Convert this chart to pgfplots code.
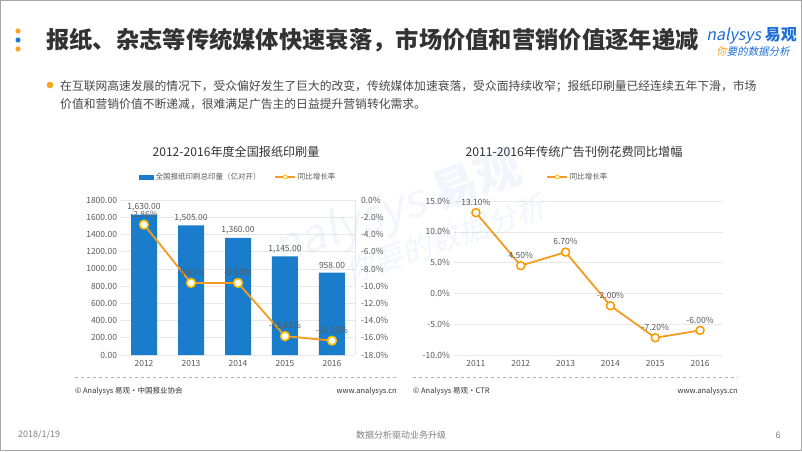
\documentclass[border=0pt]{standalone}
\usepackage{fontspec}
\setmainfont{Noto Sans CJK SC}
\newfontfamily\slantfont{Noto Sans CJK SC}[FakeSlant=0.2]
\usepackage{pgfplots}
\pgfplotsset{compat=1.18}
\definecolor{barblue}{HTML}{1A7DCB}
\definecolor{lineorange}{HTML}{F39C1F}
\definecolor{mkyellow}{HTML}{FFC000}
\definecolor{txtgray}{HTML}{595959}
\definecolor{gridgray}{HTML}{E8E8E8}
\definecolor{titlegray}{HTML}{333333}
\definecolor{logoblue}{HTML}{1E6FD9}
\definecolor{dotorange}{HTML}{F5A623}
\pgfplotsset{/pgf/number format/assume math mode=true}
\newcommand{\fs}[1]{\fontsize{#1}{#1}\selectfont}
\begin{document}
\begin{tikzpicture}
\path[use as bounding box] (0,0) rectangle (802pt,451pt);
\fill[white] (0,0) rectangle (802pt,451pt);
\begin{scope}[x=1pt,y=1pt]
% header
\fill[dotorange] (18,420) circle (2.6);
\fill[barblue] (18,411) circle (2.6);
\fill[dotorange] (18,402) circle (2.6);
\node[anchor=west, inner sep=0, text=titlegray, font=\fs{23.3}\bfseries] at (46,411) {报纸、杂志等传统媒体快速衰落，市场价值和营销价值逐年递减};
\node[anchor=east, inner sep=0, text=logoblue, font=\fs{16}] at (797,415) {{\slantfont nalysys} \bfseries 易观};
\node[anchor=east, inner sep=0, text=logoblue, font=\fs{10.5}\slantfont] at (790,399) {\textcolor{dotorange}{你}要的数据分析};
% bullet
\fill[dotorange] (50,366) circle (3.3);
\node[anchor=west, inner sep=0, text=txtgray!80!black, font=\fs{11.8}] at (60,365) {在互联网高速发展的情况下，受众偏好发生了巨大的改变，传统媒体加速衰落，受众面持续收窄；报纸印刷量已经连续五年下滑，市场};
\node[anchor=west, inner sep=0, text=txtgray!80!black, font=\fs{11.8}] at (60,347) {价值和营销价值不断递减，很难满足广告主的日益提升营销转化需求。};
% chart titles
\node[text=titlegray, font=\fs{12.1}] at (236,299) {2012-2016年度全国报纸印刷量};
\node[text=titlegray, font=\fs{12.2}] at (574,299) {2011-2016年传统广告刊例花费同比增幅};
% sources
\draw[gray!60, dashed, line width=0.6pt] (75,74) -- (397,74);
\draw[gray!60, dashed, line width=0.6pt] (413,74) -- (738,74);
\node[anchor=west, inner sep=0, text=titlegray, font=\fs{7.5}] at (75,60) {© Analysys 易观·中国报业协会};
\node[anchor=east, inner sep=0, text=titlegray, font=\fs{7.5}] at (397,60) {www.analysys.cn};
\node[anchor=west, inner sep=0, text=titlegray, font=\fs{7.5}] at (413,60) {© Analysys 易观·CTR};
\node[anchor=east, inner sep=0, text=titlegray, font=\fs{7.5}] at (738,60) {www.analysys.cn};
% footer
\node[anchor=west, inner sep=0, text=gray, font=\fs{9}] at (18,16) {2018/1/19};
\node[inner sep=0, text=gray, font=\fs{9}] at (401,16) {数据分析驱动业务升级};
\node[inner sep=0, text=gray, font=\fs{9}] at (778,16) {6};
\end{scope}

% left chart: bars
\begin{axis}[at={(120.5pt,96pt)}, anchor=south west, scale only axis,
  width=235pt, height=155pt,
  xmin=-0.5, xmax=4.5, ymin=0, ymax=1800,
  xtick={0,...,4}, xticklabels={2012,2013,2014,2015,2016},
  ytick={0,200,...,1800},
  yticklabel={\pgfmathprintnumber[fixed,fixed zerofill,precision=2,1000 sep={}]{\tick}},
  ymajorgrids, grid style={gridgray, line width=0.6pt},
  axis line style={draw=none}, major tick length=0,
  tick label style={font=\fs{8.5}, text=txtgray},
  xticklabel style={yshift=-2pt},
  ybar, bar width=26pt, clip=false,
  legend style={at={(0.5,1)}, anchor=center, yshift=23pt, draw=none, fill=none,
    font=\fs{7.5}, text=txtgray, legend columns=2,
    /tikz/every even column/.append style={column sep=12pt}},
]
\addplot[fill=barblue, draw=none,
  nodes near coords={\pgfmathprintnumber[fixed,fixed zerofill,precision=2,1000 sep={,}]{\pgfplotspointmeta}},
  every node near coord/.append style={font=\fs{8.5}, text=txtgray},
  legend image code/.code={\fill[barblue] (0pt,-2.5pt) rectangle (15pt,2.5pt);}]
  coordinates {(0,1630) (1,1505) (2,1360) (3,1145) (4,958)};
\addlegendentry{全国报纸印刷总印量（亿对开）}
\addlegendimage{legend image code/.code={\draw[lineorange, line width=1.2pt] (0pt,0pt) -- (20pt,0pt); \draw[mkyellow, fill=white, line width=0.8pt] (10pt,0pt) circle (2pt);}}
\addlegendentry{同比增长率}
\end{axis}

% left chart: line on right axis
\begin{axis}[at={(120.5pt,96pt)}, anchor=south west, scale only axis,
  width=235pt, height=155pt,
  xmin=-0.5, xmax=4.5, ymin=-18, ymax=0,
  axis x line=none, axis y line*=right,
  ytick={-18,-16,...,0},
  yticklabel={\pgfmathprintnumber[fixed,fixed zerofill,precision=1]{\tick}\%},
  y axis line style={gridgray, line width=0.8pt}, major tick length=0,
  tick label style={font=\fs{8.5}, text=txtgray},
  yticklabel style={xshift=2pt},
  clip=false,
]
\addplot[lineorange, line width=1.8pt, mark=*, mark size=4.3pt,
  mark options={fill=white, draw=mkyellow, line width=1.6pt},
  point meta=y,
  nodes near coords={\pgfmathprintnumber[fixed,fixed zerofill,precision=2]{\pgfplotspointmeta}\%},
  nodes near coords align={above},
  every node near coord/.append style={font=\fs{8.5}, text=txtgray, anchor=south, yshift=3pt}]
  coordinates {(0,-2.86) (1,-9.63) (2,-9.63) (3,-15.81) (4,-16.33)};
\end{axis}

% right chart
\begin{axis}[at={(453.5pt,96pt)}, anchor=south west, scale only axis,
  width=269pt, height=154pt,
  xmin=-0.5, xmax=5.5, ymin=-10, ymax=15,
  xtick={0,...,5}, xticklabels={2011,2012,2013,2014,2015,2016},
  ytick={-10,-5,...,15},
  yticklabel={\pgfmathprintnumber[fixed,fixed zerofill,precision=1]{\tick}\%},
  ymajorgrids, grid style={gridgray, line width=0.6pt},
  axis line style={draw=none}, major tick length=0,
  tick label style={font=\fs{8.5}, text=txtgray},
  xticklabel style={yshift=-2pt},
  clip=false,
  legend style={at={(0.5,1)}, anchor=center, xshift=-10pt, yshift=24pt, draw=none, fill=none,
    font=\fs{7.5}, text=txtgray},
  legend image code/.code={\draw[lineorange, line width=1.2pt] (0pt,0pt) -- (20pt,0pt); \draw[mkyellow, fill=white, line width=0.8pt] (10pt,0pt) circle (2pt);},
]
\addplot[lineorange, line width=1.8pt, mark=*, mark size=4pt,
  mark options={fill=white, draw=orange!60!mkyellow, line width=1.5pt},
  point meta=y,
  nodes near coords={\pgfmathprintnumber[fixed,fixed zerofill,precision=2]{\pgfplotspointmeta}\%},
  nodes near coords align={above},
  every node near coord/.append style={font=\fs{8.5}, text=txtgray, anchor=south, yshift=3pt}]
  coordinates {(0,13.1) (1,4.5) (2,6.7) (3,-2.0) (4,-7.2) (5,-6.0)};
\addlegendentry{同比增长率}
\end{axis}

% watermark and frame
\begin{scope}[x=1pt,y=1pt]
\node[rotate=19, text=logoblue, opacity=0.06, font=\fs{46}] at (398,241) {{\slantfont nalysys} \bfseries 易观};
\node[rotate=19, text=logoblue, opacity=0.06, font=\fs{30}\slantfont] at (445,212) {你要的数据分析};
\draw[gray!70, line width=1pt] (0.5,0.5) rectangle (801.5,450.5);
\end{scope}
\end{tikzpicture}
\end{document}
